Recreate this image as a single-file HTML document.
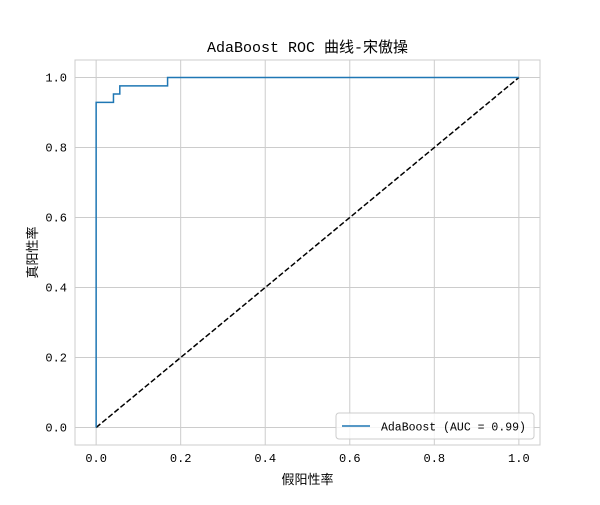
<!DOCTYPE html>
<html><head><meta charset="utf-8"><style>
body{margin:0;background:#fff;}
svg text{font-family:"Liberation Mono","Noto Sans CJK SC",monospace;}
</style></head><body>
<svg id="chart" width="600" height="500" xmlns="http://www.w3.org/2000/svg">
<rect width="600" height="500" fill="#fff"/>
<g id="grid"></g><g id="marks"></g><g id="ticks"></g>
<rect x="75" y="60" width="465" height="385" fill="none" stroke="#ccc" stroke-width="1"/>
<text x="307.5" y="52" text-anchor="middle" font-size="15" fill="#000">AdaBoost ROC 曲线-宋傲操</text>
<text x="307.5" y="484" text-anchor="middle" font-size="13" fill="#000">假阳性率</text>
<text transform="translate(37,252.5) rotate(-90)" text-anchor="middle" font-size="13" fill="#000">真阳性率</text>
<g>
<rect x="336" y="413" width="198" height="26" rx="3" fill="#fff" fill-opacity="0.8" stroke="#ccc"/>
<line x1="342" y1="426" x2="370" y2="426" stroke="#1f77b4" stroke-width="1.5"/>
<text x="381" y="430.5" font-size="11.5" fill="#000">AdaBoost (AUC = 0.99)</text>
</g>
</svg>
<script>
const fprValues=[0,0,0.041,0.041,0.056,0.056,0.169,0.169,1];
const tprValues=[0,0.929,0.929,0.953,0.953,0.976,0.976,1,1];
const tickValues=[0,0.2,0.4,0.6,0.8,1.0];
const tickLabels=["0.0","0.2","0.4","0.6","0.8","1.0"];
const NS="http://www.w3.org/2000/svg";
const L=75,R=540,T=60,B=445;
const sx=v=>L+(v+0.05)/1.1*(R-L);
const sy=v=>B-(v+0.05)/1.1*(B-T);
function mk(tag,attrs,parent){const e=document.createElementNS(NS,tag);for(const k in attrs)e.setAttribute(k,attrs[k]);document.getElementById(parent).appendChild(e);return e;}
tickValues.forEach((v,i)=>{
 let g=mk('line',{x1:sx(v),x2:sx(v),y1:T,y2:B,stroke:'#ccc','stroke-width':1},'grid');
 
 
 g=mk('line',{x1:L,x2:R,y1:sy(v),y2:sy(v),stroke:'#ccc','stroke-width':1},'grid');
 
 
 let t=mk('text',{x:sx(v),y:B+17,'text-anchor':'middle','font-size':12,fill:'#000'},'ticks');
 t.textContent=tickLabels[i];
 
 
 t=mk('text',{x:L-8,y:sy(v)+4,'text-anchor':'end','font-size':12,fill:'#000'},'ticks');
 t.textContent=tickLabels[i];
 
 
});
let d=mk('line',{x1:sx(0),y1:sy(0),x2:sx(1),y2:sy(1),stroke:'#000','stroke-width':1.5,'stroke-dasharray':'5.5,2.4'},'marks');


const pts=fprValues.map((f,i)=>sx(f)+','+sy(tprValues[i])).join(' ');
let p=mk('polyline',{points:pts,fill:'none',stroke:'#1f77b4','stroke-width':1.5},'marks');


</script>
</body></html>
